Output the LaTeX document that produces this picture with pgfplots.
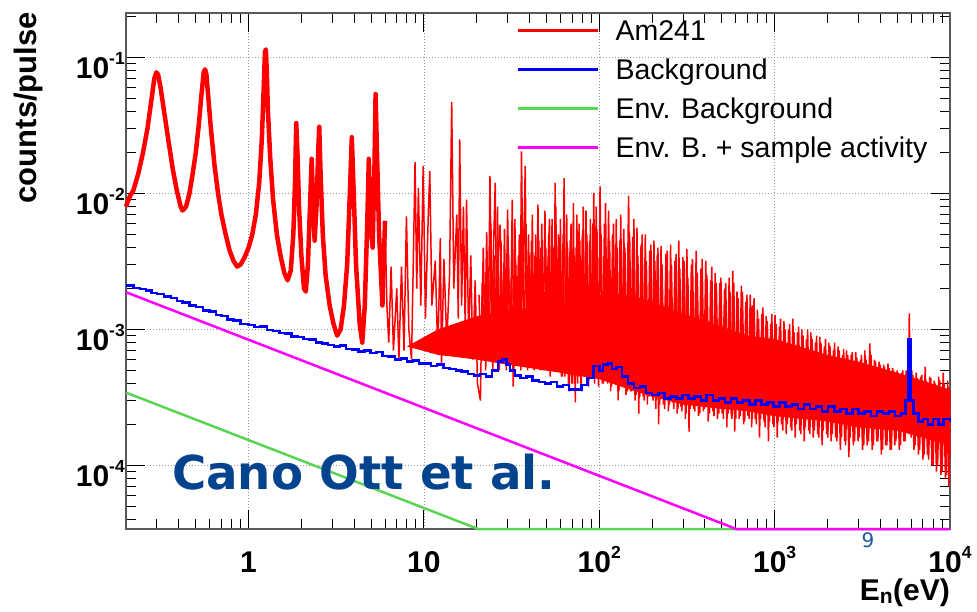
\documentclass[border=0pt]{standalone}
\usepackage{pgfplots}
\pgfplotsset{compat=1.18}
\usepackage{fontspec}
\setmainfont{Liberation Sans}
\newfontfamily\dvfont{DejaVu Sans}
\definecolor{rootred}{RGB}{255,0,0}
\definecolor{rootblue}{RGB}{0,0,255}
\definecolor{rootgreen}{RGB}{89,212,84}
\definecolor{rootmag}{RGB}{255,0,255}
\definecolor{canoblue}{RGB}{4,68,142}
\definecolor{pageblue}{RGB}{30,90,160}
\newcommand{\tp}[1]{10\raisebox{14pt}{\fontsize{17.5}{17.5}\selectfont #1}}
\begin{document}
\begin{tikzpicture}[x=1pt,y=1pt]
\useasboundingbox (-126,-82) rectangle (851,529);
\begin{axis}[
  at={(0,0)}, anchor=south west,
  scale only axis, width=824pt, height=516pt,
  xmode=log, ymode=log,
  xmin=0.2, xmax=10000, ymin=3.4e-5, ymax=0.213,
  clip=false,
  axis line style={line width=1.2pt, black!65},
  tick align=inside,
  major tick length=19pt, minor tick length=10pt,
  every tick/.style={black, line width=0.9pt},
  xtick={1,10,100,1000,10000},
  xticklabels={1,10,\tp{2},\tp{3},\tp{4}},
  minor xtick={0.3,0.4,0.5,0.6,0.7,0.8,0.9,2,3,4,5,6,7,8,9,20,30,40,50,60,70,80,90,200,300,400,500,600,700,800,900,2000,3000,4000,5000,6000,7000,8000,9000},
  ytick={1e-4,1e-3,1e-2,1e-1},
  yticklabels={\tp{-4},\tp{-3},\tp{-2},\tp{-1}},
  minor ytick={4e-5,5e-5,6e-5,7e-5,8e-5,9e-5,2e-4,3e-4,4e-4,5e-4,6e-4,7e-4,8e-4,9e-4,2e-3,3e-3,4e-3,5e-3,6e-3,7e-3,8e-3,9e-3,2e-2,3e-2,4e-2,5e-2,6e-2,7e-2,8e-2,9e-2,2e-1},
  grid=major,
  major grid style={gray!80, line width=0.8pt, dash pattern=on 1pt off 2pt},
  ticklabel style={font=\fontsize{30}{30}\selectfont\bfseries},
  xticklabel style={anchor=base, inner sep=0pt, yshift=-43pt},
  yticklabel style={anchor=east, inner sep=0pt, xshift=-1pt, yshift=-8pt},
  xlabel={E\textsubscript{n}(eV)},
  xlabel style={at={(axis description cs:1,-0.1376)}, anchor=base east, inner sep=0pt, font=\fontsize{30}{30}\selectfont\bfseries},
  ylabel={counts/pulse},
  ylabel style={at={(axis description cs:-0.1189,1.002)}, anchor=east, inner sep=0pt, font=\fontsize{31}{31}\selectfont\bfseries},
  legend style={at={(axis description cs:0.4745,0.9865)}, anchor=north west, draw=none, fill=none, inner sep=0pt, outer sep=0pt, row sep=18.5pt, column sep=16pt, font=\fontsize{28.5}{30}\selectfont, nodes={inner sep=0pt, text height=20.5pt, text depth=0pt}},
  legend cell align=left,
  legend image code/.code={\draw[#1, line width=2.6pt] (0pt,0pt) -- (80pt,0pt);},
]
% Am241, resonance region
\addplot[rootred, line width=4.5pt, line join=round] coordinates {
(0.200,8.0e-3) (0.21,9.5e-3) (0.22,1.05e-2) (0.235,1.4e-2) (0.25,2.0e-2) (0.265,3.0e-2) (0.28,5.0e-2) (0.29,7.0e-2) (0.298,7.8e-2) (0.305,7.5e-2) (0.315,6.0e-2) (0.33,4.0e-2) (0.35,2.4e-2) (0.37,1.5e-2) (0.39,1.05e-2) (0.41,8.0e-3) (0.42,7.5e-3) (0.44,8.0e-3) (0.46,1.0e-2) (0.48,1.4e-2) (0.50,2.0e-2) (0.52,3.2e-2) (0.54,5.5e-2) (0.555,7.8e-2) (0.565,8.2e-2) (0.575,7.5e-2) (0.59,5.0e-2) (0.61,3.0e-2) (0.64,1.6e-2) (0.67,1.0e-2) (0.70,7.0e-3) (0.74,5.0e-3) (0.78,3.8e-3) (0.82,3.2e-3) (0.86,2.9e-3) (0.90,3.0e-3) (0.95,3.4e-3) (1.00,4.0e-3) (1.05,5.0e-3) (1.10,7.0e-3) (1.15,1.2e-2) (1.19,2.5e-2) (1.22,6.0e-2) (1.24,1.1e-1) (1.255,1.15e-1) (1.27,8.0e-2) (1.29,4.0e-2) (1.33,1.8e-2) (1.38,9.0e-3) (1.45,5.0e-3) (1.52,3.5e-3) (1.60,2.6e-3) (1.67,2.3e-3) (1.74,2.7e-3) (1.80,5.0e-3) (1.84,1.2e-2) (1.87,3.3e-2) (1.90,2.0e-2) (1.94,8.0e-3) (2.00,3.5e-3) (2.07,2.0e-3) (2.12,1.9e-3) (2.18,3.0e-3) (2.24,8.0e-3) (2.29,1.8e-2) (2.33,9.0e-3) (2.38,4.5e-3) (2.44,8.0e-3) (2.50,2.2e-2) (2.53,3.1e-2) (2.57,1.5e-2) (2.65,5.0e-3) (2.75,2.5e-3) (2.90,1.5e-3) (3.05,1.1e-3) (3.20,9.0e-4) (3.35,1.0e-3) (3.50,1.5e-3) (3.65,3.0e-3) (3.78,1.0e-2) (3.88,2.6e-2) (3.98,1.0e-2) (4.10,3.0e-3) (4.30,1.1e-3) (4.45,8.0e-4) (4.60,1.5e-3) (4.75,6.0e-3) (4.85,1.8e-2) (4.95,6.0e-3) (5.10,4.0e-3) (5.22,1.5e-2) (5.30,5.4e-2) (5.40,2.0e-2) (5.55,5.0e-3) (5.80,1.5e-3) (6.00,6.3e-3)
};
\addlegendentry{Am241}
% Am241, dense core band
\addplot[rootred, fill=rootred, draw=none, forget plot] coordinates {
(8,7.5e-4) (12,1.0e-3) (20,1.25e-3) (30,1.4e-3) (60,1.5e-3) (100,1.8e-3) (150,1.8e-3) (200,1.6e-3) (300,1.3e-3) (500,1.05e-3) (700,9e-4) (1000,8.5e-4) (2000,6.5e-4) (3000,5.8e-4) (5000,4.8e-4) (7000,4.2e-4) (10000,3.6e-4)
(10000,1.4e-4) (7000,1.6e-4) (5000,1.8e-4) (3000,1.9e-4) (2000,2.1e-4) (1000,2.3e-4) (700,2.5e-4) (500,2.6e-4) (300,2.8e-4) (200,3.2e-4) (150,3.6e-4) (100,4.3e-4) (60,4.8e-4) (30,5.5e-4) (20,6.0e-4) (12,6.5e-4)
};
% Am241, unresolved/dense region (first set of bins)
\addplot[rootred, line width=1.5pt, forget plot] coordinates {
(6.0,6.3e-3) (6.15,1.5e-3) (6.3,8e-4) (6.5,2.9e-3) (6.7,7e-4) (7.0,2.0e-3) (7.2,6e-4) (7.45,2.9e-3) (7.7,7e-4) (7.95,6.8e-3) (8.2,1.0e-3) (8.5,6e-4) (8.9,1.7e-2) (9.1,2.0e-3) (9.3,1.1e-2) (9.6,1.5e-3) (9.9,1.6e-2) (10.2,1.2e-3) (10.6,7.3e-3) (10.8,1.47e-2) (11.1,1.5e-3) (11.6,3.2e-3) (12.0,6.5e-4) (12.4,4.7e-3) (12.6,5.4e-4) (13.0,3.3e-3) (13.5,8e-4) (14.0,2.5e-3) (14.4,4.7e-2) (14.8,2.0e-3) (15.4,7.0e-3) (15.7,1.2e-3) (16.0,2.5e-2) (16.4,1.5e-3) (16.8,8.0e-3) (17.2,1.0e-3) (17.5,9.0e-3) (18.0,8e-4) (18.5,3.5e-3) (19.0,6e-4) (19.6,2.3e-3) (20.2,4e-4) (21.0,3.0e-4) (21.5,2.2e-3) (22.2,7e-4) (22.8,5.2e-3) (23.3,9e-4) (23.8,1.35e-2) (24.4,1.2e-3) (25.0,4.5e-3) (25.5,1.2e-2) (26.0,1.0e-3) (26.6,4.0e-3) (27.2,5.9e-3) (27.8,8e-4) (28.5,3.0e-3) (29.2,6e-4) (30.0,7.6e-3) (30.8,8e-4) (31.6,2.5e-3) (32.3,3.8e-4) (33.0,6.5e-3) (33.8,9e-4) (34.6,3.5e-3) (35.3,7e-4) (36.0,2.04e-2) (36.8,1.6e-3) (37.8,1.6e-2) (38.6,9e-4) (39.5,5.0e-3) (40.3,6e-4) (41.0,4.5e-3) (42.0,7e-4) (43.0,3.5e-3) (43.8,8e-4) (44.7,8.3e-3) (45.6,6e-4) (46.5,4.0e-3) (47.5,5.5e-4) (49.0,7.5e-3) (50.0,7e-4) (51.0,3.0e-3) (52.0,6.5e-3) (53.0,5e-4) (54.5,4.0e-3) (55.2,6e-4) (56.0,1.2e-2) (57.0,8e-4) (58.5,5.0e-3) (59.2,6e-4) (60.0,6.5e-3)
(61.5,4.5e-4) (63,1.3e-2) (64.5,5e-4) (66,4e-3) (67.5,3.5e-4) (69,6e-3) (70.5,4e-4) (72,3.5e-3) (73,2.9e-4) (74.5,7e-3) (76,4.5e-4) (77.5,4.5e-3) (79,3.5e-4) (81,8e-3) (83,5e-4) (85,5e-3) (87,3.8e-4) (89,6.5e-3) (91,4.5e-4) (93,1.01e-2) (95,5e-4) (97,5.5e-3) (99,3.8e-4) (101,1.13e-2) (104,4e-4) (107,6e-3) (110,4.5e-4) (113,7.5e-3) (116,3.5e-4) (119,5e-3) (122,4.2e-4) (125,6.5e-3) (128,3e-4) (131,4.5e-3) (134,4e-4) (138,5.5e-3) (142,3.3e-4) (147,9.6e-3) (151,3.5e-4) (155,4.8e-3) (160,3e-4) (164,5.6e-3) (168,2.4e-4) (173,4.2e-3) (178,3.2e-4) (183,5e-3) (188,2.8e-4) (194,3.8e-3) (200,3.2e-4) (205,4.5e-3) (210,2.6e-4) (214,3.5e-3) (218,2.0e-4) (225,4.1e-3) (232,2.8e-4) (240,3.6e-3) (248,2.5e-4) (255,4.2e-3) (262,2.9e-4) (270,3.2e-3) (278,2.4e-4) (284,4.5e-3) (292,2.7e-4) (300,3.4e-3) (310,2.2e-4) (316,3.9e-3) (325,1.77e-4) (335,3.0e-3) (345,2.6e-4) (357,3.8e-3) (368,2.3e-4) (380,2.8e-3) (392,2.5e-4) (405,3.2e-3) (418,2.1e-4) (432,2.3e-3) (445,2.5e-4) (458,2.6e-3) (472,2.2e-4) (487,2.2e-3) (502,2.4e-4) (518,2.0e-3) (534,1.9e-4) (550,2.4e-3) (566,2.3e-4) (577,2.7e-3) (592,1.77e-4) (610,1.9e-3) (628,2.2e-4) (646,2.1e-3) (665,2.0e-4) (685,1.6e-3) (705,2.3e-4) (726,1.8e-3) (740,1.9e-4) (751,1.5e-3) (775,2.2e-4) (798,1.4e-3) (820,1.6e-4) (845,1.3e-3) (870,2.1e-4) (895,1.25e-3) (922,1.5e-4) (950,1.1e-3) (978,2.0e-4) (1005,1.28e-3) (1035,1.6e-4) (1065,1.05e-3) (1095,2.0e-4) (1130,1.15e-3) (1165,1.7e-4) (1200,1.0e-3) (1235,1.9e-4) (1270,1.2e-3) (1310,1.6e-4) (1350,9.5e-4) (1390,1.8e-4) (1430,1.0e-3) (1475,1.5e-4) (1520,8.5e-4) (1565,1.8e-4) (1610,9.5e-4) (1660,1.6e-4) (1710,8.0e-4) (1760,1.7e-4) (1810,8.8e-4) (1865,1.4e-4) (1920,7.5e-4) (1980,1.7e-4) (2040,8.0e-4) (2100,1.5e-4) (2165,7.0e-4) (2230,1.6e-4) (2300,7.5e-4) (2370,1.3e-4) (2440,6.5e-4) (2510,1.5e-4) (2570,7.0e-4) (2650,1.15e-4) (2730,6.5e-4) (2810,1.4e-4) (2900,6.8e-4) (2990,1.5e-4) (3080,6.0e-4) (3170,1.3e-4) (3270,7.0e-4) (3370,1.4e-4) (3490,7.9e-4) (3600,1.3e-4) (3710,6.0e-4) (3820,1.5e-4) (3940,5.8e-4) (4060,1.2e-4) (4180,5.5e-4) (4300,1.4e-4) (4430,5.6e-4) (4560,1.3e-4) (4700,5.2e-4) (4840,1.4e-4) (4990,5.0e-4) (5140,1.3e-4) (5300,4.8e-4) (5460,1.5e-4) (5620,5.0e-4) (5780,3.0e-4) (5860,1.31e-3) (5950,2.5e-4) (6060,5.0e-4) (6230,1.3e-4) (6420,4.8e-4) (6610,1.2e-4) (6810,4.5e-4) (7010,1.1e-4) (7220,5.3e-4) (7440,1.2e-4) (7660,4.5e-4) (7890,1.0e-4) (8130,4.2e-4) (8370,9e-5) (8620,4.5e-4) (8880,8.5e-5) (9150,4.8e-4) (9420,8e-5) (9700,4.2e-4) (9850,7e-5) (10000,3.5e-4)
};
% Am241, unresolved/dense region (interleaved bins)
\addplot[rootred, line width=1.5pt, forget plot] coordinates {
(20.6,1.8e-3) (21.2,6e-4) (21.8,4e-3) (22.5,5e-4) (23.0,3e-3) (23.6,6e-4) (24.1,6e-3) (24.7,5e-4) (25.2,3.5e-3) (25.8,7e-4) (26.3,8e-3) (26.9,5e-4) (27.5,4.5e-3) (28.1,6e-4) (28.8,5.5e-3) (29.5,5e-4) (30.3,4e-3) (31.1,7e-4) (31.9,9e-3) (32.6,5e-4) (33.4,3e-3) (34.2,6e-4) (35.0,5e-3) (35.7,5e-4) (36.4,8e-3) (37.2,6e-4) (38.2,6e-3) (39.0,5e-4) (39.9,3.5e-3) (40.7,6e-4) (41.5,7e-3) (42.5,5e-4) (43.4,5e-3) (44.3,6e-4) (45.2,4.5e-3) (46.0,5e-4) (47.0,6e-3) (48.2,5e-4) (49.5,4e-3) (50.5,6e-4) (51.5,5e-3) (52.5,4.5e-4) (53.8,6.5e-3) (55.5,5e-4) (56.5,8e-3) (57.8,5e-4) (59.5,4e-3)
(60.8,4.5e-4) (62.2,5e-3) (63.7,4.5e-4) (65.2,7e-3) (66.7,4e-4) (68.2,4.5e-3) (69.7,4e-4) (71.2,8.5e-3) (72.5,4e-4) (73.8,4e-3) (75.2,4e-4) (76.7,6e-3) (78.2,4e-4) (80,5e-3) (82,4.5e-4) (84,7.5e-3) (86,4e-4) (88,4.5e-3) (90,4.5e-4) (92,6e-3) (94,4e-4) (96,8e-3) (98,4.5e-4)
(102.5,5e-3) (105.5,4e-4) (108.5,8.5e-3) (111.5,4e-4) (114.5,4.5e-3) (117.5,3.8e-4) (120.5,6e-3) (123.5,4e-4) (126.5,4e-3) (129.5,3.5e-4) (132.5,7e-3) (136,3.8e-4) (140,4e-3) (144.5,3.5e-4) (149,5e-3) (153,3.5e-4) (157.5,6.5e-3) (162,3.3e-4) (166,3.5e-3) (170.5,3.2e-4) (175.5,5e-3) (180.5,3e-4) (185.5,3.2e-3) (191,3.2e-4) (197,4.2e-3)
(202.5,3e-4) (207.5,3.2e-3) (212,3e-4) (216,4e-3) (221,2.8e-4) (228,3e-3) (236,2.6e-4) (244,3.8e-3) (251,2.8e-4) (258,3e-3) (266,2.6e-4) (274,3.6e-3) (281,2.6e-4) (288,2.8e-3) (296,2.5e-4) (305,3.2e-3) (313,2.4e-4) (320,2.4e-3) (330,2.6e-4) (340,3.3e-3) (351,2.5e-4) (362,2.6e-3) (374,2.4e-4) (386,3.3e-3) (398,2.6e-4)
(411,2.5e-3) (425,2.4e-4) (438,2.9e-3) (451,2.3e-4) (465,2.2e-3) (480,2.4e-4) (494,2.4e-3) (510,2.2e-4) (526,2.2e-3) (542,2.4e-4) (558,1.9e-3) (571,2.2e-4) (585,2.2e-3) (600,2.2e-4) (619,1.7e-3) (637,2.3e-4) (655,1.9e-3) (675,2.1e-4) (695,1.8e-3) (715,2.2e-4) (733,1.5e-3) (745,2.2e-4) (763,1.7e-3) (786,2.0e-4) (809,1.2e-3) (832,2.2e-4) (857,1.45e-3) (882,1.9e-4) (908,1.15e-3) (936,2.1e-4) (964,1.3e-3) (991,1.9e-4)
(1020,1.1e-3) (1050,2.1e-4) (1080,1.2e-3) (1112,1.8e-4) (1147,1.0e-3) (1182,2.0e-4) (1217,1.1e-3) (1252,1.8e-4) (1290,9.5e-4) (1330,2.0e-4) (1370,1.05e-3) (1410,1.7e-4) (1452,9e-4) (1497,1.9e-4) (1542,1.0e-3) (1587,1.7e-4) (1635,8.5e-4) (1685,1.8e-4) (1735,9e-4) (1785,1.6e-4) (1837,8e-4) (1892,1.8e-4) (1950,8.5e-4) (2010,1.6e-4)
(2070,7.5e-4) (2132,1.7e-4) (2197,8e-4) (2265,1.5e-4) (2335,7e-4) (2405,1.6e-4) (2475,7.2e-4) (2540,1.4e-4) (2610,6.5e-4) (2690,1.6e-4) (2770,6.8e-4) (2855,1.5e-4) (2945,6.2e-4) (3035,1.6e-4) (3125,6.5e-4) (3220,1.4e-4) (3320,6e-4) (3430,1.5e-4) (3550,6.5e-4) (3655,1.4e-4) (3765,5.8e-4) (3880,1.5e-4) (4000,5.5e-4) (4120,1.3e-4) (4240,5.3e-4) (4365,1.4e-4) (4495,5.2e-4) (4630,1.3e-4) (4770,5e-4) (4915,1.5e-4) (5065,4.8e-4) (5220,1.4e-4) (5380,5e-4) (5540,1.5e-4) (5700,4.6e-4) (5900,6e-4) (6000,1.6e-4) (6145,4.6e-4) (6325,1.4e-4) (6515,4.4e-4) (6710,1.3e-4) (6910,4.6e-4) (7115,1.2e-4) (7330,4.2e-4) (7550,1.1e-4) (7775,4.4e-4) (8010,1.0e-4) (8250,4.0e-4) (8495,1.0e-4) (8750,4.2e-4) (9015,9e-5) (9285,4.0e-4) (9560,8.5e-5) (9780,3.8e-4) (10000,1.2e-4)
};
% Background
\addplot[rootblue, line width=2.5pt, const plot] coordinates {
(0.20,2.10e-3) (0.22,2.02e-3) (0.24,1.98e-3) (0.26,1.93e-3) (0.28,1.85e-3) (0.30,1.83e-3) (0.33,1.75e-3) (0.36,1.70e-3) (0.39,1.62e-3) (0.42,1.58e-3) (0.46,1.50e-3) (0.50,1.46e-3) (0.55,1.38e-3) (0.60,1.36e-3) (0.65,1.28e-3) (0.70,1.26e-3) (0.76,1.18e-3) (0.82,1.16e-3) (0.90,1.10e-3) (1.00,1.08e-3) (1.08,1.04e-3) (1.17,1.05e-3) (1.27,0.99e-3) (1.38,0.97e-3) (1.50,0.94e-3) (1.62,0.93e-3) (1.76,0.89e-3) (1.90,0.88e-3) (2.06,0.85e-3) (2.23,0.84e-3) (2.42,0.80e-3) (2.62,0.79e-3) (2.84,0.77e-3) (3.08,0.75e-3) (3.33,0.76e-3) (3.60,0.72e-3) (3.90,0.71e-3) (4.23,0.69e-3) (4.58,0.70e-3) (4.96,0.67e-3) (5.37,0.68e-3) (5.82,0.64e-3) (6.30,0.63e-3) (6.83,0.60e-3) (7.40,0.61e-3) (8.01,0.58e-3) (8.68,0.59e-3) (9.40,0.56e-3) (10.2,0.56e-3) (11.0,0.54e-3) (11.9,0.55e-3) (12.9,0.52e-3) (14.0,0.51e-3) (15.2,0.50e-3) (16.4,0.49e-3) (17.8,0.47e-3) (19.3,0.46e-3) (20.9,0.47e-3) (22.6,0.45e-3) (24.5,0.50e-3) (26.5,0.58e-3) (28.0,0.60e-3) (29.5,0.55e-3) (31.0,0.50e-3) (33.0,0.46e-3) (35.5,0.44e-3) (38.5,0.45e-3) (41.7,0.42e-3) (45.2,0.41e-3) (49.0,0.40e-3) (53.0,0.41e-3) (57.4,0.38e-3) (62.2,0.39e-3) (67.4,0.36e-3) (73.0,0.36e-3) (79.0,0.39e-3) (85.6,0.44e-3) (92.7,0.54e-3) (100,0.50e-3) (105,0.55e-3) (112,0.56e-3) (118,0.51e-3) (125,0.53e-3) (135,0.45e-3) (146,0.40e-3) (158,0.37e-3) (171,0.38e-3) (185,0.34e-3) (200,0.33e-3) (217,0.34e-3) (235,0.31e-3) (254,0.32e-3) (275,0.31e-3) (298,0.33e-3) (323,0.31e-3) (350,0.32e-3) (379,0.30e-3) (410,0.33e-3) (444,0.30e-3) (481,0.31e-3) (521,0.29e-3) (564,0.31e-3) (611,0.29e-3) (662,0.30e-3) (717,0.28e-3) (776,0.30e-3) (841,0.28e-3) (910,0.29e-3) (986,0.27e-3) (1068,0.29e-3) (1156,0.27e-3) (1252,0.28e-3) (1356,0.26e-3) (1469,0.28e-3) (1591,0.26e-3) (1723,0.27e-3) (1866,0.25e-3) (2021,0.27e-3) (2189,0.25e-3) (2371,0.26e-3) (2568,0.24e-3) (2781,0.26e-3) (3012,0.24e-3) (3262,0.25e-3) (3533,0.23e-3) (3827,0.25e-3) (4145,0.24e-3) (4489,0.25e-3) (4862,0.23e-3) (5266,0.24e-3) (5560,0.30e-3) (5750,0.84e-3) (5950,0.30e-3) (6200,0.24e-3) (6600,0.21e-3) (7000,0.22e-3) (7500,0.20e-3) (8000,0.22e-3) (8600,0.20e-3) (9200,0.22e-3) (10000,0.21e-3)
};
\addlegendentry{Background}
% Env. Background
\addplot[rootgreen, line width=2.5pt] coordinates {
(0.2,3.43e-4) (20.4,3.4e-5) (10000,3.4e-5)
};
\addlegendentry{Env. Background}
% Env. B. + sample activity
\addplot[rootmag, line width=2.5pt] coordinates {
(0.2,1.88e-3) (605,3.4e-5) (10000,3.4e-5)
};
\addlegendentry{Env. B. + sample activity}
\node[anchor=base west, inner sep=0pt, text=canoblue, font=\dvfont\bfseries\fontsize{46.7}{47}\selectfont] at (axis description cs:0.0558,0.0756) {Cano Ott et al.};
\node[anchor=center, inner sep=0pt, text=pageblue, font=\dvfont\fontsize{20}{20}\selectfont] at (axis description cs:0.9005,-0.0213) {9};
\end{axis}
\end{tikzpicture}
\end{document}
